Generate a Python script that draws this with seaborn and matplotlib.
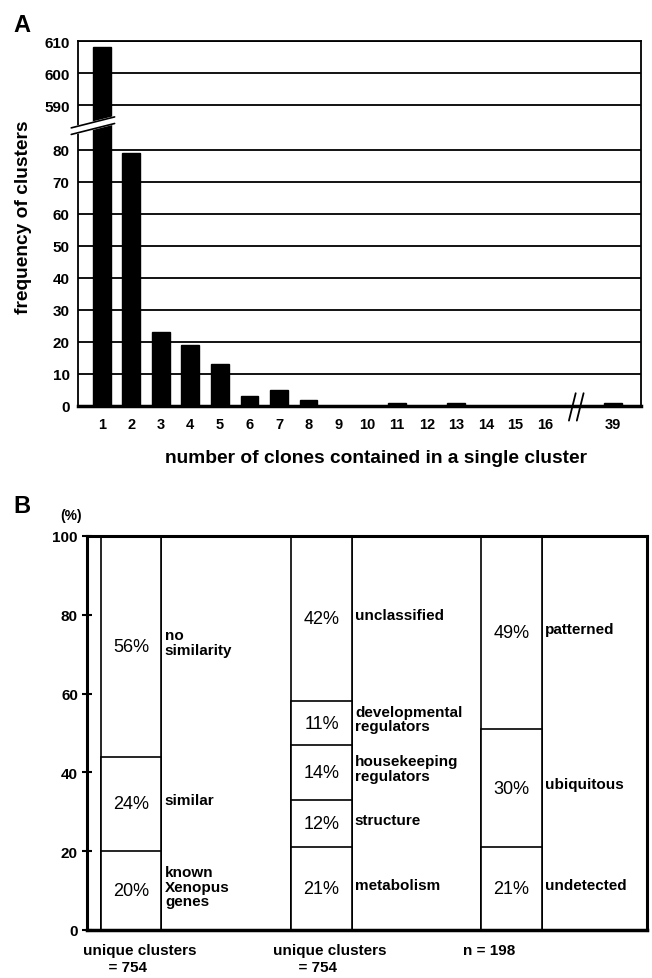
import matplotlib
matplotlib.use('Agg')
import matplotlib.pyplot as plt
import matplotlib.transforms as mtransforms
import numpy as np
import pandas as pd
import seaborn as sns

# panel A: cluster size distribution
cluster_sizes = ['1', '2', '3', '4', '5', '6', '7', '8', '9', '10',
                 '11', '12', '13', '14', '15', '16', '39']
cluster_freq = [608, 79, 23, 19, 13, 3, 5, 2, 0, 0, 1, 0, 1, 0, 0, 0, 1]

# panel B: stacked percentages (bottom -> top)
group_labels = ['unique clusters\n= 754', 'unique clusters\n= 754', 'n = 198']
similarity_pct = [20, 24, 56]
similarity_lbl = ['known\nXenopus\ngenes', 'similar', 'no\nsimilarity']
function_pct = [21, 12, 14, 11, 42]
function_lbl = ['metabolism', 'structure', 'housekeeping\nregulators',
                'developmental\nregulators', 'unclassified']
expression_pct = [21, 30, 49]
expression_lbl = ['undetected', 'ubiquitous', 'patterned']

sns.set_style('white')
plt.rcParams['font.family'] = ['Liberation Sans', 'DejaVu Sans']
plt.rcParams['text.color'] = 'black'
plt.rcParams['axes.labelcolor'] = 'black'
plt.rcParams['xtick.color'] = 'black'
plt.rcParams['ytick.color'] = 'black'


def fwd(y):
    y = np.asarray(y, dtype=float)
    return np.where(y <= 85, y, np.where(y >= 585, y - 496, 85 + (y - 85) * 0.008))


def inv(d):
    d = np.asarray(d, dtype=float)
    return np.where(d <= 85, d, np.where(d >= 89, d + 496, 85 + (d - 85) * 125))


W, H = 652, 979
fig = plt.figure(figsize=(W / 100, H / 100), dpi=100)

# ---------------- panel A ----------------
axA = fig.add_axes([78 / W, 1 - 407 / H, (641 - 78) / W, (407 - 42) / H])
x_pos = np.append(np.arange(16), 17.3)
sns.barplot(x=x_pos, y=cluster_freq, native_scale=True, width=0.6,
            color='black', edgecolor='black', saturation=1, ax=axA)
axA.set_yscale('function', functions=(fwd, inv))
axA.set_yticks([0, 10, 20, 30, 40, 50, 60, 70, 80, 590, 600, 610])
axA.set_xticks(x_pos)
axA.set_xticklabels(cluster_sizes)
axA.set_ylim(0, 610)
axA.set_xlim(-0.8, 18.25)
axA.yaxis.set_minor_locator(matplotlib.ticker.NullLocator())
axA.grid(axis='y', color='black', lw=1.3)
axA.set_axisbelow(True)
axA.tick_params(axis='both', length=0)
axA.tick_params(axis='y', pad=6)
axA.tick_params(axis='x', pad=8)
for lab in axA.get_yticklabels():
    lab.set_fontweight('bold')
    lab.set_fontsize(11)
for lab in axA.get_xticklabels():
    lab.set_fontweight('bold')
    lab.set_fontsize(10.5)
for s in axA.spines.values():
    s.set_color('black')
    s.set_linewidth(1.3)
axA.spines['bottom'].set_linewidth(2.5)
axA.set_xlabel('number of clones contained in a single cluster',
               fontsize=13.8, fontweight='bold', labelpad=13)
axA.xaxis.label.set_x(0.53)
axA.set_ylabel('frequency of clusters', fontsize=13.8, fontweight='bold', labelpad=9)
axA.yaxis.label.set_y(0.52)

# y-axis break mark
yb = 0.767
axA.plot([-0.012, 0.065], [yb - 0.014, yb + 0.016], color='white', lw=6,
         transform=axA.transAxes, clip_on=False, solid_capstyle='butt', zorder=5)
for off in (-0.009, 0.009):
    axA.plot([-0.012, 0.065], [yb - 0.014 + off, yb + 0.016 + off], color='black',
             lw=1.2, transform=axA.transAxes, clip_on=False, zorder=6)
# x-axis break mark
for xo in (0.878, 0.892):
    axA.plot([xo - 0.006, xo + 0.006], [-0.04, 0.035], color='black', lw=1.3,
             transform=axA.transAxes, clip_on=False, zorder=6)

fig.text(13 / W, 1 - 32 / H, 'A', fontsize=17, fontweight='bold', va='baseline')

# ---------------- panel B ----------------
axB = fig.add_axes([87 / W, 1 - 931 / H, (647 - 87) / W, (931 - 537) / H])
box_w = 0.316
rows = []
for gi, pcts in enumerate([similarity_pct, function_pct, expression_pct]):
    tops = np.cumsum(pcts)
    for rank, top in enumerate(sorted(tops, reverse=True)):
        rows.append({'pos': gi, 'rank': rank, 'top': top})
seg = pd.DataFrame(rows)
for rank in sorted(seg['rank'].unique()):
    sub = seg[seg['rank'] == rank]
    sns.barplot(data=sub, x='pos', y='top', native_scale=True, width=box_w,
                color='white', edgecolor='black', linewidth=1.2, saturation=1, ax=axB)

for gi, (pcts, lbls) in enumerate([(similarity_pct, similarity_lbl),
                                   (function_pct, function_lbl),
                                   (expression_pct, expression_lbl)]):
    tops = np.cumsum(pcts)
    bottoms = tops - np.array(pcts)
    for p, b, t, lbl in zip(pcts, bottoms, tops, lbls):
        mid = (b + t) / 2
        axB.text(gi, mid, f'{p}%', ha='center', va='center', fontsize=13)
        axB.text(gi + box_w / 2 + 0.018, mid + 1, lbl, ha='left', va='center',
                 fontsize=11, fontweight='bold', linespacing=1.05)
    axB.axvline(gi + box_w / 2, color='black', lw=1.2, zorder=0)

# group captions under the boxes, left aligned a little left of each box
below = mtransforms.blended_transform_factory(axB.transData, axB.transAxes)
for gi, g in enumerate(group_labels):
    axB.text(gi - box_w / 2 - 0.095, -0.033, g.replace('\n', '\n      '),
             transform=below, ha='left', va='top', fontsize=11,
             fontweight='bold', linespacing=1.3)

axB.set_xticks([])
axB.set_yticks([0, 20, 40, 60, 80, 100])
axB.set_xlim(-0.234, 2.713)
axB.set_ylim(0, 100)
axB.set_xlabel('')
axB.set_ylabel('')
axB.tick_params(axis='y', direction='inout', length=7, width=1.5, left=True, pad=3)
for lab in axB.get_yticklabels():
    lab.set_fontweight('bold')
    lab.set_fontsize(11)
for s in axB.spines.values():
    s.set_color('black')
    s.set_linewidth(2.2)
axB.spines['bottom'].set_linewidth(2.5)
axB.text(-0.01, 1.035, '(%)', transform=axB.transAxes, ha='right', va='bottom',
         fontsize=10, fontweight='bold')

fig.text(13 / W, 1 - 513 / H, 'B', fontsize=17, fontweight='bold', va='baseline')

fig.savefig('out.png', dpi=100)
